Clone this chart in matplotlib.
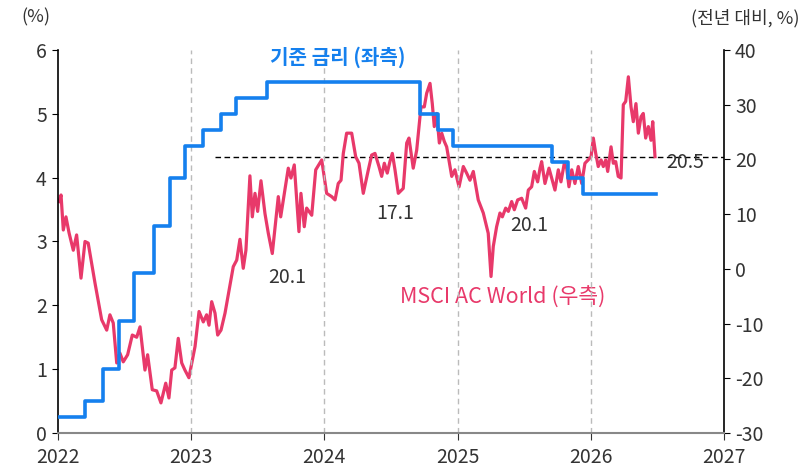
import numpy as np
import pandas as pd
import matplotlib
matplotlib.use('Agg')
import matplotlib.pyplot as plt

plt.rcParams['font.family'] = ['Noto Sans CJK KR', 'DejaVu Sans']
plt.rcParams['axes.unicode_minus'] = False

# policy rate (upper bound, %), step changes
rate_dates = ['2022-01-01', '2022-03-17', '2022-05-05', '2022-06-16', '2022-07-28',
              '2022-09-22', '2022-11-03', '2022-12-15', '2023-02-02', '2023-03-23',
              '2023-05-04', '2023-07-27', '2024-09-19', '2024-11-08', '2024-12-19',
              '2025-09-18', '2025-10-30', '2025-12-11', '2026-06-28']
rate_values = [0.25, 0.5, 1.0, 1.75, 2.5, 3.25, 4.0, 4.5, 4.75, 5.0,
               5.25, 5.5, 5.0, 4.75, 4.5, 4.25, 4.0, 3.75, 3.75]

# MSCI AC World, YoY % (decimal year, value)
msci_t = [2022.008, 2022.023, 2022.040, 2022.060, 2022.083, 2022.115, 2022.140, 2022.173,
          2022.203, 2022.227, 2022.278, 2022.328, 2022.366, 2022.390, 2022.415, 2022.441,
          2022.465, 2022.490, 2022.523, 2022.558, 2022.591, 2022.616, 2022.653, 2022.673,
          2022.708, 2022.741, 2022.773, 2022.809, 2022.833, 2022.854, 2022.878, 2022.903,
          2022.929, 2022.953, 2022.983, 2023.029, 2023.059, 2023.091, 2023.116, 2023.134,
          2023.154, 2023.179, 2023.199, 2023.224, 2023.254, 2023.316, 2023.342, 2023.366,
          2023.391, 2023.411, 2023.441, 2023.459, 2023.479, 2023.499, 2023.524, 2023.554,
          2023.579, 2023.609, 2023.654, 2023.672, 2023.729, 2023.749, 2023.774, 2023.809,
          2023.824, 2023.849, 2023.867, 2023.905, 2023.935, 2023.980, 2024.017, 2024.055,
          2024.080, 2024.104, 2024.125, 2024.142, 2024.167, 2024.205, 2024.235, 2024.260,
          2024.292, 2024.330, 2024.355, 2024.380, 2024.410, 2024.430, 2024.450, 2024.472,
          2024.492, 2024.510, 2024.530, 2024.555, 2024.592, 2024.618, 2024.635, 2024.667,
          2024.693, 2024.725, 2024.750, 2024.768, 2024.793, 2024.810, 2024.825, 2024.843,
          2024.863, 2024.881, 2024.900, 2024.918, 2024.956, 2024.980, 2025.011, 2025.043,
          2025.068, 2025.093, 2025.118, 2025.155, 2025.193, 2025.230, 2025.251, 2025.268,
          2025.293, 2025.318, 2025.336, 2025.361, 2025.381, 2025.406, 2025.426, 2025.451,
          2025.481, 2025.511, 2025.531, 2025.556, 2025.576, 2025.601, 2025.619, 2025.631,
          2025.656, 2025.686, 2025.706, 2025.731, 2025.756, 2025.776, 2025.801, 2025.819,
          2025.836, 2025.857, 2025.881, 2025.906, 2025.932, 2025.956, 2025.980, 2026.002,
          2026.019, 2026.037, 2026.056, 2026.077, 2026.094, 2026.112, 2026.127, 2026.152,
          2026.169, 2026.187, 2026.206, 2026.227, 2026.244, 2026.262, 2026.282, 2026.302,
          2026.319, 2026.339, 2026.357, 2026.377, 2026.394, 2026.412, 2026.432, 2026.452,
          2026.465, 2026.482]
msci_yoy = [12.3, 13.5, 7.1, 9.5, 6.6, 3.4, 6.2, -1.7,
            5.0, 4.7, -2.6, -9.3, -11.2, -8.4, -9.9, -17.2,
            -15.4, -17.0, -15.7, -12.1, -12.5, -10.6, -18.5, -15.7,
            -22.1, -22.3, -24.5, -20.9, -23.6, -18.5, -18.1, -12.7,
            -17.2, -18.5, -19.9, -14.2, -7.8, -9.7, -8.4, -10.3,
            -6.0, -8.1, -12.1, -11.2, -8.1, 0.4, 1.6, 5.4,
            0.1, 3.4, 17.0, 9.5, 13.8, 10.5, 16.1, 10.1,
            6.5, 2.8, 13.2, 9.5, 18.4, 16.6, 19.0, 6.8,
            13.8, 7.7, 11.1, 9.8, 18.1, 19.9, 13.8, 13.2,
            12.6, 15.6, 16.2, 21.1, 24.8, 24.8, 20.5, 19.3,
            13.8, 18.1, 20.8, 21.1, 18.7, 16.9, 19.3, 17.5,
            19.6, 21.1, 18.1, 13.8, 14.7, 23.0, 23.9, 18.4,
            21.7, 29.6, 29.6, 32.1, 33.9, 30.2, 26.0, 28.4,
            23.0, 24.8, 23.3, 22.3, 16.9, 18.1, 15.0, 18.7,
            17.5, 16.2, 17.8, 12.6, 10.2, 6.5, -1.4, 4.1,
            7.7, 10.2, 9.5, 11.1, 10.5, 12.3, 10.8, 12.6,
            12.9, 11.1, 14.4, 15.0, 17.8, 15.9, 18.4, 19.6,
            15.6, 18.4, 16.6, 14.4, 18.1, 15.9, 19.3, 18.4,
            15.0, 18.1, 15.6, 18.7, 15.6, 19.3, 19.9, 20.5,
            23.9, 21.1, 18.7, 19.9, 18.7, 19.9, 17.8, 22.3,
            19.3, 19.6, 16.9, 16.6, 30.0, 30.6, 35.1, 29.6,
            26.9, 30.2, 24.8, 27.8, 28.4, 23.9, 26.0, 23.5,
            26.9, 20.5]

avg_level = 20.5
avg_start = 2023.18

years = [2022, 2023, 2024, 2025, 2026, 2027]
left_ticks = [0, 1, 2, 3, 4, 5, 6]
right_ticks = [-30, -20, -10, 0, 10, 20, 30, 40]

BLUE = '#1580EE'
PINK = '#E8396A'
TXT = '#333333'


def to_decimal_year(s):
    d = pd.Timestamp(s)
    n = 366 if d.is_leap_year else 365
    return d.year + (d.dayofyear - 1) / n


rate_t = [to_decimal_year(s) for s in rate_dates]

fig = plt.figure(figsize=(8.04, 4.69), dpi=100)
ax = fig.add_axes([0.0721, 0.0768, 0.8284, 0.8166])
ax2 = ax.twinx()

# vertical grid
for y in years[1:-1]:
    ax.axvline(y, color='#BBBBBB', linestyle=(0, (4, 3)), linewidth=1, zorder=0)

ax.step(rate_t, rate_values, where='post', color=BLUE, linewidth=2.6, zorder=3)
ax2.plot(msci_t, msci_yoy, color=PINK, linewidth=2.3, zorder=3)
ax2.hlines(avg_level, avg_start, 2027, colors='black', linestyles=(0, (4, 2.5)), linewidth=1)

ax.set_xlim(2022, 2027)
ax.set_ylim(0, 6)
ax2.set_ylim(-30, 40)
ax.set_xticks(years)
ax.set_xticklabels([str(y) for y in years])
ax.set_yticks(left_ticks)
ax2.set_yticks(right_ticks)

ax.set_zorder(ax2.get_zorder() + 1)
ax.patch.set_visible(False)

for a in (ax, ax2):
    a.spines['top'].set_visible(False)
ax.spines['right'].set_visible(False)
ax2.spines['left'].set_visible(False)
ax2.spines['bottom'].set_visible(False)
ax.spines['bottom'].set_color('#888888')
ax.spines['bottom'].set_linewidth(1.5)
ax.spines['left'].set_linewidth(1.2)
ax2.spines['right'].set_linewidth(1.2)

ax.tick_params(axis='x', labelsize=14, length=5, pad=5, color=TXT, labelcolor=TXT)
ax.tick_params(axis='y', labelsize=14, length=4, pad=4, labelcolor=TXT)
ax2.tick_params(axis='y', labelsize=14, length=4, pad=4, labelcolor=TXT)
for tick in ax.xaxis.get_major_ticks()[1:-1]:
    tick.tick1line.set_color('#BBBBBB')

fig.text(0.027, 0.962, '(%)', fontsize=13, ha='left', va='center', color=TXT)
fig.text(0.995, 0.962, '(전년 대비, %)', fontsize=13, ha='right', va='center', color=TXT)

ax.text(2024.10, 5.89, '기준 금리 (좌측)', color=BLUE, fontsize=14.5, fontweight='bold',
        ha='center', va='center')
ax2.text(2025.34, -5.3, 'MSCI AC World (우측)', color=PINK, fontsize=15.5,
         ha='center', va='center')
ax2.text(2023.72, -1.5, '20.1', fontsize=14, ha='center', va='center', color=TXT)
ax2.text(2024.53, 10.2, '17.1', fontsize=14, ha='center', va='center', color=TXT)
ax2.text(2025.54, 8.0, '20.1', fontsize=14, ha='center', va='center', color=TXT)
ax2.text(2026.71, 19.5, '20.5', fontsize=14, ha='center', va='center', color=TXT)

fig.savefig('out.png', dpi=100)
